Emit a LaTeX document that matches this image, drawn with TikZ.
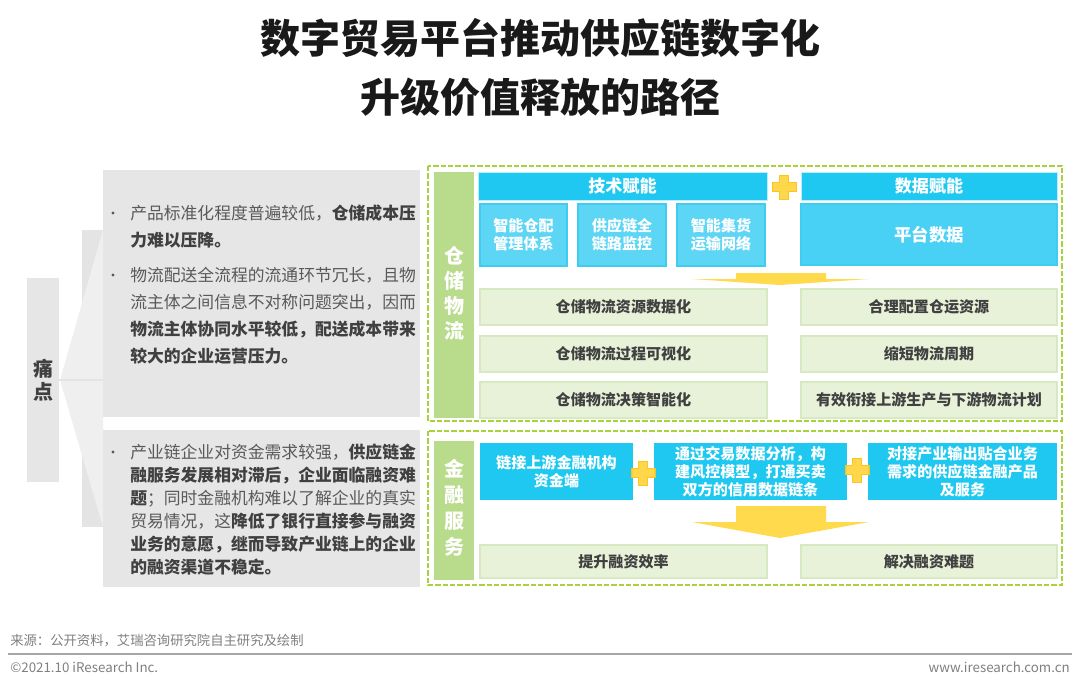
\documentclass[tikz,border=0pt]{standalone}
\usepackage{fontspec}
\setmainfont{Noto Sans CJK SC}
\usetikzlibrary{positioning}

\definecolor{paingray}{HTML}{E6E6E6}
\definecolor{stripgray}{HTML}{E4E4E4}
\definecolor{wedgegray}{HTML}{EFEFEF}
\definecolor{txtgray}{HTML}{595959}
\definecolor{txtdark}{HTML}{404040}
\definecolor{cyanhead}{HTML}{1FC8F0}
\definecolor{cyansub}{HTML}{5DD6F6}
\definecolor{cyanline}{HTML}{3ECDF1}
\definecolor{cyanplat}{HTML}{48D1F4}
\definecolor{greenfill}{HTML}{E7F2D9}
\definecolor{greenline}{HTML}{D6E9C2}
\definecolor{greenstrip}{HTML}{B9DB8C}
\definecolor{dashgreen}{HTML}{A9D13C}
\definecolor{arrowyel}{HTML}{FFDA4D}
\definecolor{plusyel}{HTML}{FFD43B}
\definecolor{plusedge}{HTML}{FFC21A}

\newcommand{\emtx}[1]{\textbf{\color{txtdark}#1}}

\begin{document}
\begin{tikzpicture}[
  x=0.75pt, y=-0.75pt,
  title/.style={font=\bfseries\fontsize{30}{34}\selectfont, text=black!90},
  painbox/.style={fill=paingray, inner sep=0pt},
  paintext/.style={anchor=north west, inner sep=0pt, align=left, text=txtgray},
  dot/.style={circle, fill=txtgray, inner sep=0pt, minimum size=2.6pt},
  frame/.style={draw=dashgreen, line width=1.4pt, dash pattern=on 4pt off 1.5pt},
  strip/.style={fill=greenstrip, text=white, inner sep=0pt, align=center,
                font=\bfseries\fontsize{15}{18.75}\selectfont},
  head/.style={fill=cyanhead, draw=white!70!cyanhead, line width=0.6pt, text=white,
               inner sep=0pt, font=\bfseries\fontsize{12.8}{15}\selectfont},
  sub/.style={fill=cyansub, draw=cyanline, line width=0.8pt, text=white, inner sep=0pt,
              align=center, font=\bfseries\fontsize{11.3}{13.5}\selectfont},
  plat/.style={fill=cyanplat, draw=cyanline, line width=0.8pt, text=white, inner sep=0pt,
               font=\bfseries\fontsize{13}{15}\selectfont},
  res/.style={fill=greenfill, draw=greenline, line width=1.2pt, text=txtdark, inner sep=0pt,
              font=\bfseries\fontsize{11.3}{13.5}\selectfont},
  fin/.style={fill=cyanhead, text=white, inner sep=0pt, align=center,
              font=\bfseries\fontsize{11.3}{13.5}\selectfont},
  plus/.style={fill=plusyel, draw=plusedge, line width=0.6pt, opacity=0.92},
  flow/.style={fill=arrowyel},
  foot/.style={text=black!50, inner sep=0pt, font=\fontsize{10}{11}\selectfont},
]

\useasboundingbox (0,0) rectangle (1080,688);
\fill[white] (0,0) rectangle (1080,688);

% #1 node-id, #2 x1, #3 y1, #4 x2, #5 y2, #6 style, #7 text
\newcommand{\putbox}[7]{%
  \node[#6, minimum width={(#4-#2)*0.75pt}, minimum height={(#5-#3)*0.75pt}]
    (#1) at ({(#2+#4)/2},{(#3+#5)/2}) {#7};
}
% yellow cross, centred on #1,#2
\newcommand{\plussign}[2]{%
  \filldraw[plus, shift={(#1,#2)}] (-4.5,-12) -- (4.5,-12) -- (4.5,-4.5) -- (12,-4.5)
    -- (12,4.5) -- (4.5,4.5) -- (4.5,12) -- (-4.5,12) -- (-4.5,4.5) -- (-12,4.5)
    -- (-12,-4.5) -- (-4.5,-4.5) -- cycle;
}

\node[title] (t1) at (540,38) {数字贸易平台推动供应链数字化};
\node[title] (t2) at (540,97) {升级价值释放的路径};

% left: pain points
\fill[stripgray] (82,230) rectangle (103,527);
\fill[wedgegray] (60,380) -- (103,230) -- (103,527) -- cycle;
\putbox{pain}{27}{278}{59}{482}{painbox, text=txtdark, align=center,
  font=\bfseries\fontsize{15}{17}\selectfont}{痛\\点}
\draw[stripgray, line width=1pt] (pain.east) -- (103,380);

\putbox{pA}{103}{170}{420}{417}{painbox}{}
\putbox{pB}{103}{430}{420}{587}{painbox}{}

\node[dot] (d1) at (113,213) {};
\node[dot] (d2) at (113,275) {};
\node[dot] (d3) at (113,452) {};
\node[paintext, font=\fontsize{12.6}{20.25}\selectfont] (s1) at (130,204.5)
  {产品标准化程度普遍较低，\emtx{仓储成本压}\\\emtx{力难以压降。}};
\node[paintext, font=\fontsize{12.6}{20.25}\selectfont] (s2) at (130,266.5)
  {物流配送全流程的流通环节冗长，且物\\流主体之间信息不对称问题突出，因而\\
   \emtx{物流主体协同水平较低，配送成本带来}\\\emtx{较大的企业运营压力。}};
\node[paintext, font=\fontsize{12.6}{17.25}\selectfont] (s3) at (130,443.5)
  {产业链企业对资金需求较强，\emtx{供应链金}\\\emtx{融服务发展相对滞后，企业面临融资难}\\
   \emtx{题}；同时金融机构难以了解企业的真实\\贸易情况，这\emtx{降低了银行直接参与融资}\\
   \emtx{业务的意愿，继而导致产业链上的企业}\\\emtx{的融资渠道不稳定。}};

% right top: warehousing and logistics
\draw[frame] (428,166) rectangle (1062,421);
\putbox{wl}{434}{172}{474}{418}{strip}{}
\node[strip] (wlt) at (454,293.5) {仓\\储\\物\\流};

\putbox{tech}{478}{172}{767}{200}{head}{技术赋能}
\putbox{data}{801}{172}{1057}{200}{head}{数据赋能}
\putbox{tA}{480}{204}{567}{266}{sub}{智能仓配\\管理体系}
\putbox{tB}{578}{204}{666}{266}{sub}{供应链全\\链路监控}
\putbox{tC}{677}{204}{765}{266}{sub}{智能集货\\运输网络}
\putbox{plat}{801}{204}{1057}{265}{plat}{平台数据}
\plussign{784}{187}

\fill[flow] (736,273) -- (826,273) -- (826,279) -- (869,279) -- (780,285)
  -- (692,279) -- (736,279) -- cycle;

\putbox{rA}{480}{289}{767}{325}{res}{仓储物流资源数据化}
\putbox{rB}{480}{336}{767}{372}{res}{仓储物流过程可视化}
\putbox{rC}{480}{382}{767}{418}{res}{仓储物流决策智能化}
\putbox{rD}{801}{289}{1057}{325}{res}{合理配置仓运资源}
\putbox{rE}{801}{336}{1057}{372}{res}{缩短物流周期}
\putbox{rF}{801}{382}{1057}{418}{res}{有效衔接上游生产与下游物流计划}

% right bottom: financial services
\draw[frame] (428,431) rectangle (1062,585);
\putbox{fs}{434}{441}{474}{580}{strip}{}
\node[strip, font=\bfseries\fontsize{15}{19.5}\selectfont] (fst) at (454,508) {金\\融\\服\\务};

\putbox{fA}{480}{443}{633}{500}{fin}{链接上游金融机构\\资金端}
\putbox{fB}{654}{443}{847}{500}{fin}{通过交易数据分析，构\\建风控模型，打通买卖\\双方的信用数据链条}
\putbox{fC}{868}{443}{1057}{500}{fin}{对接产业输出贴合业务\\需求的供应链金融产品\\及服务}
\plussign{643}{473}
\plussign{857}{470}

\fill[flow] (736,506) -- (826,506) -- (826,522) -- (869,522) -- (780,538)
  -- (692,522) -- (736,522) -- cycle;

\putbox{gA}{480}{545}{767}{578}{res}{提升融资效率}
\putbox{gB}{801}{545}{1057}{578}{res}{解决融资难题}

% footer
\node[foot, anchor=west] (src) at (10,641) {来源：公开资料，艾瑞咨询研究院自主研究及绘制};
\draw[black!35, line width=1.3pt] (8,654) -- (1072,654);
\node[foot, anchor=west] (cr) at (10,667) {©2021.10 iResearch Inc.};
\node[foot, anchor=east] (web) at (1070,667) {www.iresearch.com.cn};

\end{tikzpicture}
\end{document}
